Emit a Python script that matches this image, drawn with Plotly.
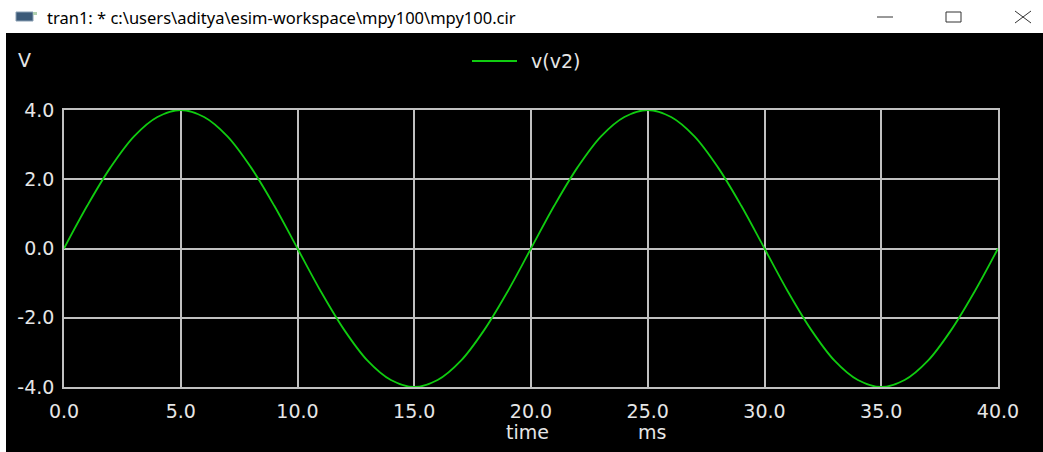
import plotly.graph_objects as go

# ---- data ----
time_ms = list(range(0, 41))
v_v2 = [0.00, 1.24, 2.35, 3.24, 3.80, 4.00, 3.80, 3.24, 2.35, 1.24,
        0.00, -1.24, -2.35, -3.24, -3.80, -4.00, -3.80, -3.24, -2.35, -1.24,
        0.00, 1.24, 2.35, 3.24, 3.80, 4.00, 3.80, 3.24, 2.35, 1.24,
        0.00, -1.24, -2.35, -3.24, -3.80, -4.00, -3.80, -3.24, -2.35, -1.24,
        0.00]
series_name = "v(v2)"
x_tickvals = [0, 5, 10, 15, 20, 25, 30, 35, 40]
x_ticktext = ["0.0", "5.0", "10.0", "15.0", "20.0", "25.0", "30.0", "35.0", "40.0"]
y_tickvals = [-4, -2, 0, 2, 4]
y_ticktext = ["-4.0", "-2.0", "0.0", "2.0", "4.0"]
window_title = "tran1: * c:\\users\\aditya\\esim-workspace\\mpy100\\mpy100.cir"
y_unit = "V"
x_name = "time"
x_unit = "ms"

# ---- layout geometry (pixels) ----
W, H = 1043, 452
L, R, T, B = 64, 998, 110, 387
pw, ph = R - L, B - T


def px(x):
    return (x - L) / pw


def py(y):
    return (B - y) / ph


FONT = "DejaVu Sans"
TXT = "#e6e6e6"
GRID = "#c0c0c0"
GREEN = "#10cc10"

fig = go.Figure()
fig.add_trace(go.Scatter(x=time_ms, y=v_v2, mode="lines", name=series_name,
                         line=dict(color=GREEN, width=1.8, shape="spline", smoothing=1.0),
                         showlegend=False, hoverinfo="skip"))

shapes = []
# black client area
shapes.append(dict(type="rect", xref="paper", yref="paper", layer="below",
                   x0=px(6), x1=px(W + 5), y0=py(33), y1=py(H + 5),
                   fillcolor="black", line=dict(width=0)))
# title bar icon
shapes.append(dict(type="rect", xref="paper", yref="paper",
                   x0=px(16), x1=px(33), y0=py(12), y1=py(21),
                   fillcolor="#3c5a78", line=dict(color="#8aa0b4", width=1)))
shapes.append(dict(type="rect", xref="paper", yref="paper",
                   x0=px(33), x1=px(37), y0=py(12), y1=py(15),
                   fillcolor="#b0d0b0", line=dict(width=0)))
# window controls
shapes.append(dict(type="line", xref="paper", yref="paper",
                   x0=px(877), x1=px(893), y0=py(17), y1=py(17),
                   line=dict(color="#333333", width=1)))
shapes.append(dict(type="rect", xref="paper", yref="paper",
                   x0=px(946), x1=px(961), y0=py(12), y1=py(22),
                   line=dict(color="#333333", width=1)))
shapes.append(dict(type="line", xref="paper", yref="paper",
                   x0=px(1015), x1=px(1031), y0=py(11), y1=py(23),
                   line=dict(color="#333333", width=1)))
shapes.append(dict(type="line", xref="paper", yref="paper",
                   x0=px(1015), x1=px(1031), y0=py(23), y1=py(11),
                   line=dict(color="#333333", width=1)))
# legend line
shapes.append(dict(type="line", xref="paper", yref="paper",
                   x0=px(472), x1=px(517), y0=py(61), y1=py(61),
                   line=dict(color=GREEN, width=2)))

annotations = [
    dict(text=window_title, xref="paper", yref="paper", x=px(45), y=py(18),
         xanchor="left", yanchor="middle", showarrow=False,
         font=dict(family="Noto Sans", size=16.5, color="#000000")),
    dict(text=y_unit, xref="paper", yref="paper", x=px(16), y=py(60),
         xanchor="left", yanchor="middle", showarrow=False,
         font=dict(family=FONT, size=19, color=TXT)),
    dict(text=series_name, xref="paper", yref="paper", x=px(529), y=py(61),
         xanchor="left", yanchor="middle", showarrow=False,
         font=dict(family=FONT, size=19, color=TXT)),
    dict(text=x_name, xref="paper", yref="paper", x=px(504), y=py(432),
         xanchor="left", yanchor="middle", showarrow=False,
         font=dict(family=FONT, size=19, color=TXT)),
    dict(text=x_unit, xref="paper", yref="paper", x=px(636), y=py(432),
         xanchor="left", yanchor="middle", showarrow=False,
         font=dict(family=FONT, size=19, color=TXT)),
]

axis_common = dict(showgrid=True, gridcolor=GRID, gridwidth=1.6,
                   zeroline=False, showline=True, linecolor=GRID, linewidth=1.6,
                   mirror=True, ticks="", tickfont=dict(family=FONT, size=19, color=TXT))

fig.update_layout(
    width=W, height=H,
    margin=dict(l=L, r=W - R, t=T, b=H - B, pad=0),
    paper_bgcolor="white", plot_bgcolor="black",
    xaxis=dict(range=[0, 40], tickvals=x_tickvals, ticktext=x_ticktext,
               ticklabelstandoff=6, **axis_common),
    yaxis=dict(range=[-4, 4], tickvals=y_tickvals, ticktext=y_ticktext,
               ticklabelstandoff=4, **axis_common),
    shapes=shapes, annotations=annotations,
)

fig.write_html("out.html", config={"displayModeBar": False})
